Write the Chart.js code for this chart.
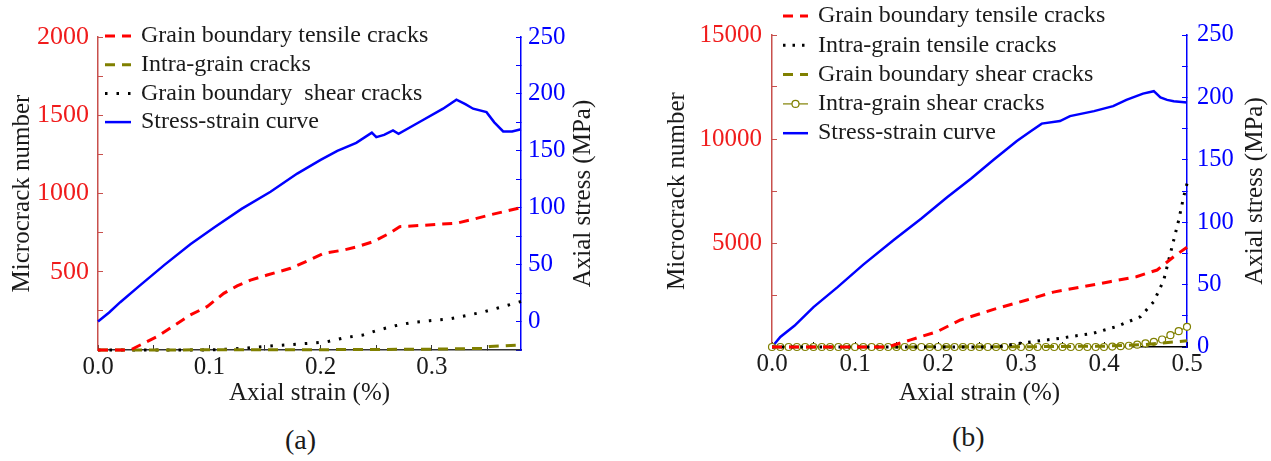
<!DOCTYPE html>
<html>
<head>
<meta charset="utf-8">
<script src="https://cdn.jsdelivr.net/npm/chart.js@4.4.0/dist/chart.umd.min.js"></script>
<style>
  html, body { margin: 0; padding: 0; background: #fff; }
  body { width: 1271px; height: 461px; position: relative; overflow: hidden; font-family: 'Liberation Serif', serif; }
  .panel { position: absolute; top: 0; height: 420px; }
  #wrapA { left: 0; width: 620px; }
  #wrapB { left: 640px; width: 631px; }
  .tag { position: absolute; font-size: 28px; color: #1a1a1a; line-height: 32px; }
</style>
</head>
<body>
<div class="panel" id="wrapA"><canvas id="chartA"></canvas></div>
<div class="panel" id="wrapB"><canvas id="chartB"></canvas></div>
<div class="tag" style="left:285px; top:424px;">(a)</div>
<div class="tag" style="left:952px; top:421px;">(b)</div>
<script>
// (a) values
const stressStrainA = [0, 0.01, 0.02, 0.038, 0.06, 0.083, 0.105, 0.129, 0.155, 0.179, 0.2, 0.215, 0.232, 0.246, 0.25, 0.257, 0.265, 0.27, 0.29, 0.31, 0.322, 0.33, 0.337, 0.349, 0.356, 0.364, 0.372, 0.38];
const stressA = [0, 8, 17, 32, 50, 68, 83, 99, 114, 130, 142, 150, 157, 166, 162, 164, 168, 165, 176, 187, 195, 191, 187, 184, 175, 167, 167, 169];

const gbTensileStrainA = [0, 0.029, 0.053, 0.083, 0.098, 0.113, 0.125, 0.137, 0.152, 0.173, 0.19, 0.203, 0.221, 0.233, 0.247, 0.262, 0.271, 0.292, 0.322, 0.337, 0.352, 0.38];
const gbTensileA = [0, 0, 85, 224, 277, 362, 410, 447, 479, 522, 575, 618, 639, 660, 692, 746, 788, 797, 810, 835, 863, 910];

const intraStrainA = [0, 0.2, 0.3, 0.345, 0.352, 0.38];
const intraA = [0, 2, 5, 10, 22, 32];

const gbShearStrainA = [0, 0.098, 0.13, 0.158, 0.19, 0.206, 0.222, 0.238, 0.252, 0.267, 0.283, 0.298, 0.315, 0.33, 0.345, 0.36, 0.38];
const gbShearA = [0, 0, 10, 27, 43, 53, 79, 96, 128, 155, 177, 187, 198, 219, 241, 270, 310];

// (b) values
const stressStrainB = [0, 0.01, 0.027, 0.05, 0.079, 0.11, 0.147, 0.18, 0.211, 0.24, 0.267, 0.295, 0.31, 0.325, 0.347, 0.359, 0.388, 0.411, 0.427, 0.447, 0.46, 0.468, 0.476, 0.484, 0.5];
const stressB = [0, 8, 17, 32, 48, 66, 86, 103, 120, 135, 150, 165, 172, 179, 181, 185, 189, 193, 198, 203, 205, 200, 198, 197, 196];

const gbTensileStrainB = [0, 0.139, 0.167, 0.199, 0.227, 0.267, 0.307, 0.339, 0.379, 0.407, 0.439, 0.464, 0.484, 0.5];
const gbTensileB = [0, 0, 340, 740, 1300, 1810, 2260, 2640, 2930, 3140, 3380, 3700, 4340, 4800];

const intraTensileStrainB = [0, 0.27, 0.299, 0.347, 0.387, 0.415, 0.444, 0.46, 0.472, 0.482, 0.49, 0.496, 0.5];
const intraTensileB = [0, 0, 180, 420, 660, 980, 1460, 2180, 3220, 4820, 6100, 7230, 7850];

const gbShearStrainB = [0, 0.3, 0.4, 0.45, 0.5];
const gbShearB = [0, 10, 40, 120, 300];

const intraShearStrainB = [0, 0.01, 0.02, 0.03, 0.04, 0.05, 0.06, 0.07, 0.08, 0.09, 0.1, 0.11, 0.12, 0.13, 0.14, 0.15, 0.16, 0.17, 0.18, 0.19, 0.2, 0.21, 0.22, 0.23, 0.24, 0.25, 0.26, 0.27, 0.28, 0.29, 0.3, 0.31, 0.32, 0.33, 0.34, 0.35, 0.36, 0.37, 0.38, 0.39, 0.4, 0.41, 0.42, 0.43, 0.44, 0.45, 0.46, 0.47, 0.48, 0.49, 0.5];
const intraShearB = [0, 0, 0, 0, 0, 0, 0, 0, 0, 0, 0, 0, 0, 0, 0, 0, 0, 0, 0, 0, 0, 0, 0, 0, 0, 0, 0, 0, 0, 0, 0, 0, 0, 0, 0, 0, 0, 0, 0, 0, 0, 20, 40, 60, 110, 170, 250, 360, 570, 760, 970];

const serif = "'Liberation Serif', 'Times New Roman', serif";
const ink = '#1a1a1a';
const red = '#ff0000';
const redAxis = '#c8504d';
const redText = '#f01c1c';
const blue = '#0000ff';
const olive = '#808000';

Chart.defaults.font.family = serif;
Chart.defaults.color = ink;
Chart.defaults.animation = false;

function pts(xs, ys) {
  return xs.map((x, i) => ({ x, y: ys[i] }));
}

// legend drawn inside the plot, like the original figure
const floatLegend = {
  id: 'floatLegend',
  afterDraw(chart, args, opts) {
    const ctx = chart.ctx;
    ctx.save();
    ctx.font = opts.size + 'px ' + serif;
    ctx.textBaseline = 'middle';
    ctx.textAlign = 'left';
    chart.data.datasets.forEach((ds, i) => {
      let y = opts.y + i * opts.row;
      ctx.strokeStyle = ds.borderColor;
      ctx.lineWidth = ds.borderWidth;
      ctx.setLineDash(ds.borderDash || []);
      ctx.beginPath();
      ctx.moveTo(opts.x, y);
      ctx.lineTo(opts.x + opts.sample, y);
      ctx.stroke();
      ctx.setLineDash([]);
      if (ds.pointRadius) {
        ctx.fillStyle = ds.pointBackgroundColor;
        ctx.lineWidth = ds.pointBorderWidth;
        ctx.beginPath();
        ctx.arc(opts.x + opts.sample / 2, y, ds.pointRadius, 0, Math.PI * 2);
        ctx.fill();
        ctx.stroke();
      }
      ctx.fillStyle = ink;
      ctx.fillText(ds.label, opts.x + opts.sample + opts.gap, y);
    });
    ctx.restore();
  }
};

// right axis title reads bottom to top in the original
const sideTitle = {
  id: 'sideTitle',
  afterDraw(chart, args, opts) {
    const { ctx, chartArea } = chart;
    ctx.save();
    ctx.translate(opts.x, (chartArea.top + chartArea.bottom) / 2);
    ctx.rotate(-Math.PI / 2);
    ctx.font = opts.size + 'px ' + serif;
    ctx.fillStyle = ink;
    ctx.textAlign = 'center';
    ctx.textBaseline = 'middle';
    ctx.fillText(opts.text, 0, 0);
    ctx.restore();
  }
};

function tenth(v) {
  return Math.round(v * 100) % 10 === 0 ? v.toFixed(1) : '';
}

function lineSet(label, data, color, dash, width, axis) {
  return {
    label, data, yAxisID: axis,
    borderColor: color, borderWidth: width, borderDash: dash,
    pointRadius: 0, tension: 0, fill: false, clip: 5
  };
}

new Chart(document.getElementById('chartA'), {
  type: 'line',
  data: {
    datasets: [
      lineSet('Grain boundary tensile cracks', pts(gbTensileStrainA, gbTensileA), red, [10, 7], 3, 'y'),
      lineSet('Intra-grain cracks', pts(intraStrainA, intraA), olive, [10, 7], 3, 'y'),
      lineSet('Grain boundary  shear cracks', pts(gbShearStrainA, gbShearA), '#000', [2.5, 9], 3, 'y'),
      lineSet('Stress-strain curve', pts(stressStrainA, stressA), blue, [], 2.5, 'y1')
    ]
  },
  options: {
    responsive: true,
    maintainAspectRatio: false,
    layout: { padding: { top: 37, left: 0, right: 0, bottom: 0 } },
    plugins: {
      legend: { display: false },
      tooltip: { enabled: false },
      floatLegend: { x: 105, y: 36, row: 28.7, sample: 26, gap: 10, size: 24 },
      sideTitle: { x: 583, text: 'Axial stress (MPa)', size: 25 }
    },
    scales: {
      x: {
        type: 'linear', min: 0, max: 0.38,
        afterFit(s) { s.height = 70; },
        border: { color: '#333', width: 1.5 },
        grid: { drawOnChartArea: false, tickLength: -5, color: '#333' },
        ticks: { stepSize: 0.05, includeBounds: false, autoSkip: false, maxRotation: 0, padding: 7, color: ink, font: { size: 25 }, callback: tenth },
        title: { display: true, text: 'Axial strain (%)', color: ink, font: { size: 25 }, padding: { top: 0, bottom: 12 } }
      },
      y: {
        position: 'left', min: 0, max: 2000,
        afterFit(s) { s.width = 98; },
        border: { color: redAxis, width: 1.5 },
        grid: { drawOnChartArea: false, tickLength: -5, color: redAxis },
        ticks: { stepSize: 250, autoSkip: false, padding: 14, color: redText, font: { size: 26 }, callback: v => (v > 0 && v % 500 === 0 ? v : '') },
        title: { display: true, text: 'Microcrack number', color: ink, font: { size: 25 }, padding: { top: 7, bottom: 0 } }
      },
      y1: {
        position: 'right', min: -25, max: 250,
        afterFit(s) { s.width = 99; },
        border: { color: blue, width: 1.5 },
        grid: { drawOnChartArea: false, tickLength: -5, color: blue },
        ticks: { stepSize: 25, autoSkip: false, padding: 12, color: blue, font: { size: 25 }, callback: v => (v >= 0 && v % 50 === 0 ? v : '') }
      }
    }
  },
  plugins: [floatLegend, sideTitle]
});

let circles = lineSet('Intra-grain shear cracks', pts(intraShearStrainB, intraShearB), olive, [], 1.2, 'y');
circles.pointRadius = 3.5;
circles.pointBorderWidth = 1.2;
circles.pointBackgroundColor = '#fff';
circles.pointBorderColor = olive;
circles.clip = 8;

new Chart(document.getElementById('chartB'), {
  type: 'line',
  data: {
    datasets: [
      lineSet('Grain boundary tensile cracks', pts(gbTensileStrainB, gbTensileB), red, [10, 7], 3, 'y'),
      lineSet('Intra-grain tensile cracks', pts(intraTensileStrainB, intraTensileB), '#000', [2.5, 7], 3, 'y'),
      lineSet('Grain boundary shear cracks', pts(gbShearStrainB, gbShearB), olive, [10, 7], 3, 'y'),
      circles,
      lineSet('Stress-strain curve', pts(stressStrainB, stressB), blue, [], 2.5, 'y1')
    ]
  },
  options: {
    responsive: true,
    maintainAspectRatio: false,
    layout: { padding: { top: 35, left: 0, right: 0, bottom: 0 } },
    plugins: {
      legend: { display: false },
      tooltip: { enabled: false },
      floatLegend: { x: 143, y: 16, row: 29.3, sample: 25, gap: 10, size: 24 },
      sideTitle: { x: 615, text: 'Axial stress (MPa)', size: 25 }
    },
    scales: {
      x: {
        type: 'linear', min: 0, max: 0.5,
        afterFit(s) { s.height = 73; },
        border: { color: '#000', width: 1.5 },
        grid: { drawOnChartArea: false, tickLength: -5, color: '#000' },
        ticks: { stepSize: 0.05, includeBounds: false, autoSkip: false, maxRotation: 0, padding: 7, color: ink, font: { size: 25 }, callback: tenth },
        title: { display: true, text: 'Axial strain (%)', color: ink, font: { size: 25 }, padding: { top: 0, bottom: 12 } }
      },
      y: {
        position: 'left', min: 0, max: 15000,
        afterFit(s) { s.width = 132; },
        border: { color: redAxis, width: 1.5 },
        grid: { drawOnChartArea: false, tickLength: -5, color: redAxis },
        ticks: { stepSize: 2500, autoSkip: false, padding: 15, color: redText, font: { size: 25 }, callback: v => (v > 0 && v % 5000 === 0 ? v : '') },
        title: { display: true, text: 'Microcrack number', color: ink, font: { size: 25 }, padding: { top: 22, bottom: 0 } }
      },
      y1: {
        position: 'right', min: 0, max: 250,
        afterFit(s) { s.width = 84; },
        border: { color: blue, width: 1.5 },
        grid: { drawOnChartArea: false, tickLength: -5, color: blue },
        ticks: { stepSize: 25, autoSkip: false, padding: 15, color: blue, font: { size: 24.5 }, callback: v => (v % 50 === 0 ? v : '') }
      }
    }
  },
  plugins: [floatLegend, sideTitle]
});
</script>
</body>
</html>
